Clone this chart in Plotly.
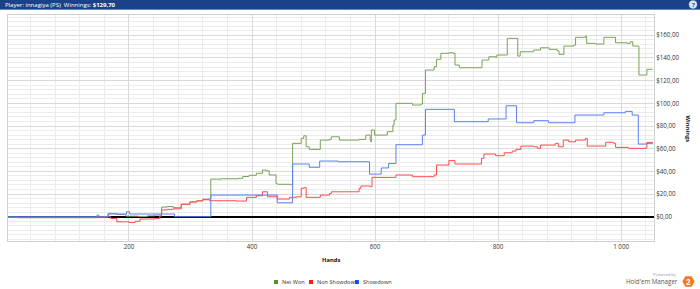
import math
import plotly.graph_objects as go

# ---------------- data ----------------
net_won_hands = [1, 20, 145, 148, 151, 166, 180, 195, 215, 230, 242, 253, 262, 272, 285, 299, 310, 320, 331,
                 333, 350, 377, 385, 395, 407, 417, 423, 428, 439, 441, 464, 466, 480, 484, 488, 493, 508, 511,
                 526, 529, 542, 574, 585, 592, 593, 594, 599, 620, 629, 631, 634, 661, 675, 677, 682, 696, 700,
                 707, 720, 727, 730, 737, 764, 774, 785, 796, 798, 812, 815, 829, 832, 836, 858, 869, 883, 896,
                 899, 907, 923, 926, 942, 944, 958, 972, 985, 991, 1010, 1015, 1019, 1027, 1029, 1040, 1042, 1051]
net_won_values = [-0.5, -0.8, -0.8, 1.5, -0.3, 3.0, 2.0, 0.5, 0.2, 0.8, 1.5, 8.5, 9.0, 8.0, 11.0, 13.0, 14.0, 15.5, 16.0,
                  33.2, 33.5, 33.8, 35.5, 36.5, 38.3, 41.2, 40.5, 36.8, 29.4, 28.6, 28.0, 64.7, 69.1, 71.4, 61.7, 59.4, 59.4, 67.6,
                  68.2, 70.5, 67.6, 68.2, 72.0, 67.6, 66.0, 76.5, 72.0, 75.0, 80.9, 85.3, 100.0, 98.5, 99.4, 108.8, 129.4, 132.3, 138.8,
                  144.1, 144.6, 144.1, 133.8, 131.4, 131.4, 138.2, 141.1, 140.6, 142.6, 142.6, 157.3, 157.3, 141.7, 145.5, 147.0, 149.0, 147.6, 146.4,
                  143.2, 150.5, 151.4, 158.2, 159.3, 152.9, 152.3, 158.2, 158.2, 153.4, 152.9, 154.3, 150.5, 150.5, 125.0, 125.0, 130.0, 129.7]

non_showdown_hands = [1, 20, 150, 160, 170, 180, 200, 210, 218, 242, 250, 253, 262, 272, 285, 299, 310, 320, 331,
                      374, 391, 407, 417, 425, 441, 461, 472, 480, 484, 488, 508, 511, 526, 529, 551, 574, 577, 592,
                      595, 629, 634, 661, 696, 700, 720, 730, 764, 773, 777, 796, 810, 823, 829, 837, 858, 864, 869,
                      893, 898, 906, 915, 926, 942, 945, 964, 975, 988, 991, 1012, 1040, 1042, 1051]
non_showdown_values = [-0.5, -0.8, -0.8, 0.0, -1.5, -4.5, -5.0, -4.0, -2.0, -1.5, 0.6, 6.0, 6.5, 7.0, 11.0, 13.0, 14.0, 15.0, 14.1,
                       13.8, 17.1, 18.5, 22.0, 17.6, 15.6, 17.1, 17.6, 25.0, 25.6, 17.1, 17.1, 19.1, 20.6, 22.0, 22.0, 25.0, 27.1, 26.5,
                       34.7, 34.7, 36.8, 35.3, 36.8, 45.6, 49.5, 46.5, 46.5, 51.5, 55.3, 53.8, 56.4, 57.9, 59.4, 62.3, 61.7, 60.3, 63.2,
                       64.7, 61.7, 67.6, 66.1, 67.6, 69.1, 62.3, 62.3, 65.6, 64.7, 61.2, 60.3, 60.8, 65.6, 64.7]

showdown_hands = [1, 166, 196, 201, 274, 333, 441, 466, 493, 510, 540, 591, 604, 610, 622, 634, 677, 682,
                  729, 784, 813, 830, 858, 882, 925, 972, 1007, 1018, 1028, 1042, 1051]
showdown_values = [0.0, 2.4, 4.4, 2.4, 0.0, 19.1, 12.3, 46.5, 43.6, 49.1, 48.5, 37.6, 37.6, 43.0, 47.0, 63.5, 72.0, 94.7,
                   83.8, 86.2, 97.9, 82.9, 84.7, 82.9, 89.7, 91.7, 92.9, 89.7, 64.1, 64.7, 65.3]

series_names = ["Net Won", "Non Showdown", "Showdown"]

y_tick_vals = [0, 20, 40, 60, 80, 100, 120, 140, 160]
y_tick_text = ["$0,00", "$20,00", "$40,00", "$60,00", "$80,00", "$100,00", "$120,00", "$140,00", "$160,00"]
x_tick_vals = [200, 400, 600, 800, 1000]
x_tick_text = ["200", "400", "600", "800", "1 000"]

header_text = "Player: innagiya (PS)  Winnings: <b>$129,70</b>"

# ---------------- styling ----------------
W, H = 700, 289
L, R, T, B = 8, 654, 15, 241
line_colors = ["#7aa356", "#ff4a4a", "#5c7ff2"]
legend_colors = ["#4c9a22", "#ff1a1a", "#2255ff"]
legend_marker_x = [276, 311, 357]
FONT = "Open Sans, Noto Sans, DejaVu Sans, sans-serif"
TICK = 6.2


def px(x):
    return (x - L) / (R - L)


def py(y):
    return (B - y) / (B - T)


fig = go.Figure()
for hands, vals, name, col in [
    (net_won_hands, net_won_values, series_names[0], line_colors[0]),
    (non_showdown_hands, non_showdown_values, series_names[1], line_colors[1]),
    (showdown_hands, showdown_values, series_names[2], line_colors[2]),
]:
    fig.add_trace(go.Scatter(x=hands, y=vals, mode="lines", line=dict(color=col, width=1, shape="hv"),
                             name=name, showlegend=False, hoverinfo="skip"))

fig.update_layout(
    width=W, height=H,
    margin=dict(l=L, r=W - R, t=T, b=H - B, pad=0, autoexpand=False),
    paper_bgcolor="white", plot_bgcolor="white",
    font=dict(family=FONT, size=TICK, color="#333333"),
    showlegend=False,
    xaxis=dict(range=[3.3, 1053.5], tickmode="array", tickvals=x_tick_vals, ticktext=x_tick_text,
               showgrid=True, gridcolor="#d9d9d9", gridwidth=1, automargin=False,
               minor=dict(tickmode="linear", tick0=0, dtick=40, showgrid=True, gridcolor="#ececec", gridwidth=1),
               showline=True, linecolor="#d0d0d0", linewidth=1, mirror=True,
               zeroline=False, ticks="", ticklen=2, tickfont=dict(size=TICK, color="#333333")),
    yaxis=dict(range=[-21.4, 177.9], side="right", tickmode="array", tickvals=y_tick_vals, ticktext=y_tick_text,
               showgrid=True, gridcolor="#d9d9d9", gridwidth=1, automargin=False,
               minor=dict(tickmode="linear", tick0=0, dtick=4, showgrid=True, gridcolor="#ececec", gridwidth=1),
               showline=True, linecolor="#d0d0d0", linewidth=1, mirror=True,
               zeroline=True, zerolinecolor="#000000", zerolinewidth=1.6,
               ticks="", tickfont=dict(size=TICK, color="#333333")),
)


def note(x, y, text, size=6, color="#333333", xanchor="center", angle=0):
    fig.add_annotation(xref="paper", yref="paper", x=px(x), y=py(y), xanchor=xanchor, yanchor="middle",
                       text=text, showarrow=False, textangle=angle,
                       font=dict(size=size, color=color, family=FONT))


# header bar
fig.add_shape(type="rect", xref="paper", yref="paper", x0=px(0), x1=px(700), y0=py(9.5), y1=py(0),
              fillcolor="#1b4289", line=dict(width=0), layer="above")
fig.add_shape(type="line", xref="paper", yref="paper", x0=px(0), x1=px(700), y0=py(9.5), y1=py(9.5),
              line=dict(color="#5f86c8", width=1), layer="above")
note(3, 4.7, header_text, size=6, color="white", xanchor="left")
fig.add_shape(type="circle", xref="paper", yref="paper", x0=px(689), x1=px(697), y0=py(8.5), y1=py(0.5),
              fillcolor="#dfe8f7", line=dict(color="#9fb7e0", width=0.5), layer="above")
note(693, 4.6, "<b>?</b>", size=6, color="#1b4289")

# axis titles
note(331, 260, "<b>Hands</b>", size=5.8, color="#111111")
note(687.5, 129, "<b>Winnings</b>", size=5.8, color="#111111", angle=90)

# legend
for name, col, mx in zip(series_names, legend_colors, legend_marker_x):
    fig.add_shape(type="rect", xref="paper", yref="paper", x0=px(mx - 2), x1=px(mx + 2),
                  y0=py(284), y1=py(280), fillcolor=col, line=dict(width=0), layer="above")
    note(mx + 4, 282, name, size=5.6, color="#333333", xanchor="left")

# Powered by Hold'em Manager 2
note(679, 274.5, "Powered by", size=4.2, color="#999999", xanchor="right")
note(680, 281.5, "Hold'em Manager", size=6.2, color="#555555", xanchor="right")
cx, cy, r = 688.5, 281.5, 6.2
pts = [(cx + r * math.cos(math.radians(a)), cy + r * math.sin(math.radians(a))) for a in range(0, 360, 60)]
path = "M " + " L ".join(f"{px(x):.5f},{py(y):.5f}" for x, y in pts) + " Z"
fig.add_shape(type="path", xref="paper", yref="paper", path=path, fillcolor="#f07a24",
              line=dict(width=0), layer="above")
note(cx, cy + 0.3, "<b>2</b>", size=8, color="white")

fig.write_html("out.html")
